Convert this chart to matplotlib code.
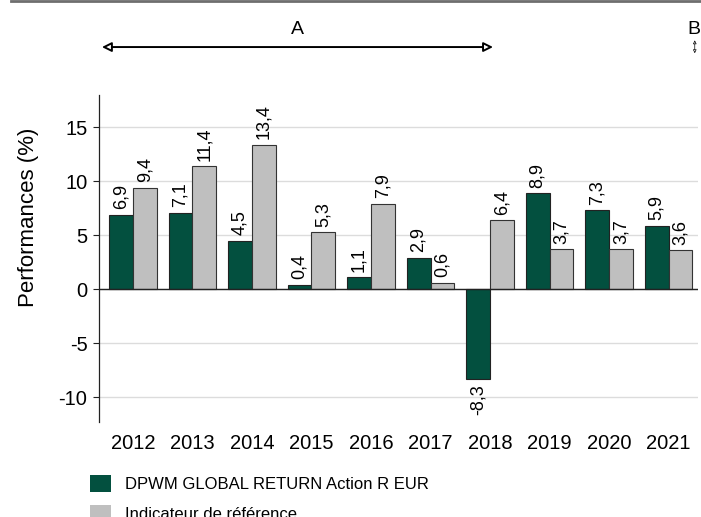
import matplotlib
matplotlib.use("Agg")

import matplotlib.pyplot as plt
import matplotlib.transforms as mtransforms
from matplotlib.patches import Patch
import numpy as np

plt.rcParams["font.family"] = ["Liberation Sans", "DejaVu Sans"]

# Donnees
annees = ["2012", "2013", "2014", "2015", "2016", "2017", "2018", "2019", "2020", "2021"]
fonds = [6.9, 7.1, 4.5, 0.4, 1.1, 2.9, -8.3, 8.9, 7.3, 5.9]
indicateur = [9.4, 11.4, 13.4, 5.3, 7.9, 0.6, 6.4, 3.7, 3.7, 3.6]
nom_fonds = "DPWM GLOBAL RETURN Action R EUR"
nom_indicateur = "Indicateur de référence"

vert = "#03503f"
gris = "#bfbfbf"

fig = plt.figure(figsize=(7.01, 5.17), dpi=100)
ax = fig.add_axes([0.1412, 0.1838, 0.855, 0.6324])

x = np.arange(len(annees))
w = 0.4
b1 = ax.bar(x - w / 2, fonds, w, color=vert, edgecolor="#222222", linewidth=0.8, zorder=3)
b2 = ax.bar(x + w / 2, indicateur, w, color=gris, edgecolor="#333333", linewidth=0.8, zorder=3)

# Etiquettes verticales
for barres in (b1, b2):
    for r in barres:
        v = r.get_height()
        txt = f"{v:.1f}".replace(".", ",")
        cx = r.get_x() + r.get_width() / 2
        if v >= 0:
            ax.annotate(txt, (cx, v), xytext=(0, 4), textcoords="offset points",
                        rotation=90, ha="center", va="bottom", fontsize=13)
        else:
            ax.annotate(txt, (cx, v), xytext=(0, -4), textcoords="offset points",
                        rotation=90, ha="center", va="top", fontsize=13)

ax.set_xlim(-0.57, 9.5)
ax.set_ylim(-12.3, 18)
ax.set_yticks([-10, -5, 0, 5, 10, 15])
ax.set_yticklabels(["-10", "-5", "0", "5", "10", "15"], fontsize=14.5)
ax.set_xticks(x)
ax.set_xticklabels(annees, fontsize=14.5)
ax.tick_params(axis="x", length=0, pad=9)
ax.tick_params(axis="y", length=4.3, width=0.8, color="#222222", pad=4)
ax.grid(axis="y", color="#dcdcdc", linewidth=1, zorder=0)
ax.axhline(0, color="#222222", linewidth=1, zorder=4)
for s in ["top", "right", "bottom"]:
    ax.spines[s].set_visible(False)
ax.spines["left"].set_color("#222222")
ax.spines["left"].set_linewidth(0.9)
ax.set_ylabel("Performances (%)", fontsize=16)
ax.yaxis.set_label_coords(-0.1, 0.627)

# Periodes A et B au-dessus du graphique
trans = mtransforms.blended_transform_factory(ax.transData, fig.transFigure)
ax.annotate("", xy=(-0.52, 0.909), xytext=(6.05, 0.909), xycoords=trans, textcoords=trans,
            arrowprops=dict(arrowstyle="<|-|>", color="black", fc="white", lw=1.4,
                            mutation_scale=14, shrinkA=0, shrinkB=0),
            annotation_clip=False)
ax.text(2.76, 0.942, "A", transform=trans, ha="center", va="center", fontsize=14)
ax.text(9.42, 0.942, "B", transform=trans, ha="center", va="center", fontsize=14)
ax.annotate("", xy=(9.44, 0.897), xytext=(9.44, 0.922), xycoords=trans, textcoords=trans,
            arrowprops=dict(arrowstyle="<|-|>", color="black", fc="white", lw=0.5,
                            mutation_scale=5, shrinkA=0, shrinkB=0),
            annotation_clip=False)

# Trait gris en haut
fig.add_artist(plt.Line2D([0.015, 1.0], [0.998, 0.998], color="#6e6e6e", linewidth=2,
                          transform=fig.transFigure))

# Legende
poignees = [Patch(facecolor=vert, edgecolor="none"), Patch(facecolor=gris, edgecolor="none")]
fig.legend(poignees, [nom_fonds, nom_indicateur], loc="upper left",
           bbox_to_anchor=(0.128, 0.081), frameon=False, fontsize=12,
           handlelength=1.25, handleheight=1.15, handletextpad=0.85, labelspacing=0.8,
           borderpad=0, borderaxespad=0)

fig.savefig("out.png", dpi=100)
